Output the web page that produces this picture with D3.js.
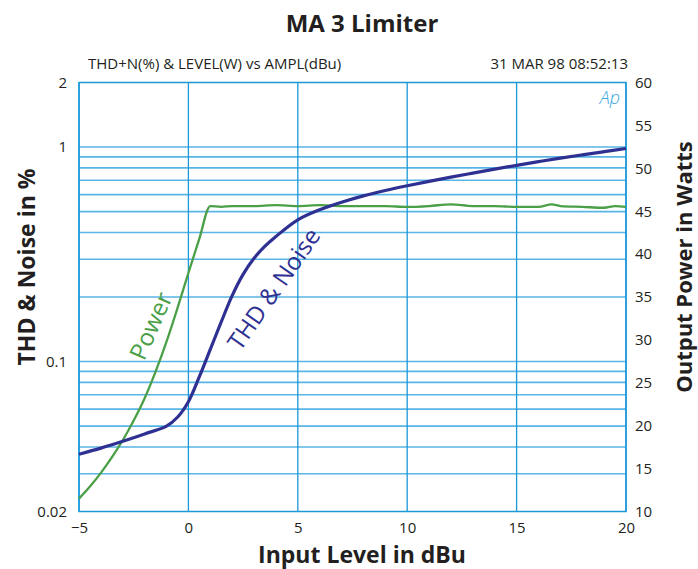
<!DOCTYPE html>
<html>
<head>
<meta charset="utf-8">
<script src="https://cdn.jsdelivr.net/npm/d3@7"></script>
<style>
  body { margin: 0; background: #fff; }
  text { font-family: 'Open Sans', sans-serif; fill: #231f20; }
</style>
</head>
<body>
<div class="chart"></div>
<script>
// Chart data

// input level in dBu for the THD+N sweep
const thdLevels = [-5, -4, -3, -2, -1, -0.5, 0, 0.5, 1, 1.5, 2, 2.5, 3, 3.5, 4, 5, 6, 7, 8, 9, 10, 11, 12, 13, 14, 15, 16, 17, 18, 19, 20];
// THD + noise in %
const thdValues = [0.037, 0.0395, 0.0425, 0.046, 0.050, 0.055, 0.065, 0.085, 0.114, 0.153, 0.203, 0.255, 0.303, 0.345, 0.383, 0.458, 0.51, 0.553, 0.592, 0.627, 0.66, 0.692, 0.724, 0.756, 0.789, 0.822, 0.855, 0.888, 0.92, 0.952, 0.985];

// input level in dBu for the output power sweep
const powerLevels = [-5, -4.5, -4, -3.5, -3, -2.5, -2, -1.5, -1, -0.5, 0, 0.5, 1, 1.5, 2, 3, 4, 5, 6, 7, 8, 9, 10, 11, 12, 13, 14, 15, 16, 16.6, 17, 18, 19, 19.5, 20];
// output power in watts
const powerValues = [11.5, 12.9, 14.5, 16.3, 18.3, 20.6, 23.2, 26.3, 29.8, 33.7, 37.8, 41.8, 45.6, 45.5, 45.6, 45.6, 45.7, 45.6, 45.7, 45.6, 45.6, 45.6, 45.5, 45.6, 45.8, 45.6, 45.6, 45.5, 45.5, 45.8, 45.6, 45.5, 45.4, 45.6, 45.5];

// tick labels
const xTicks = [-5, 0, 5, 10, 15, 20];
const leftTicks = [2, 1, 0.1, 0.02];
const leftGrid = [1, 0.9, 0.8, 0.7, 0.6, 0.5, 0.4, 0.3, 0.2, 0.1, 0.09, 0.08, 0.07, 0.06, 0.05, 0.04, 0.03];
const rightTicks = [10, 15, 20, 25, 30, 35, 40, 45, 50, 55, 60];

// chart dimensions
let width = 698, height = 569;
let margin = { top: 82.5, right: 72, bottom: 57.5, left: 79 };
let plotW = width - margin.left - margin.right;
let plotH = height - margin.top - margin.bottom;

const svg = d3.select('.chart')
  .append('svg')
  .attr('width', width)
  .attr('height', height);

const xScale = d3.scaleLinear().domain([-5, 20]).range([margin.left, margin.left + plotW]);
const yLeft = d3.scaleLog().domain([0.02, 2]).range([margin.top + plotH, margin.top]);
const yRight = d3.scaleLinear().domain([10, 60]).range([margin.top + plotH, margin.top]);

const gridBlue = '#2ea3df';

// horizontal grid lines (log grid of the left axis)
svg.append('g')
  .selectAll('line')
  .data(leftGrid)
  .enter()
  .append('line')
  .attr('x1', margin.left)
  .attr('x2', margin.left + plotW)
  .attr('y1', d => yLeft(d))
  .attr('y2', d => yLeft(d))
  .attr('stroke', gridBlue)
  .attr('stroke-opacity', 0.8)
  .attr('stroke-width', 1.6);

// vertical grid lines
svg.append('g')
  .selectAll('line')
  .data(xTicks)
  .enter()
  .append('line')
  .attr('x1', d => xScale(d))
  .attr('x2', d => xScale(d))
  .attr('y1', margin.top)
  .attr('y2', margin.top + plotH)
  .attr('stroke', '#1a98d8')
  .attr('stroke-width', 1.3);

// plot frame
svg.append('rect')
  .attr('x', margin.left)
  .attr('y', margin.top)
  .attr('width', plotW)
  .attr('height', plotH)
  .attr('fill', 'none')
  .attr('stroke', '#1a98d8')
  .attr('stroke-width', 1.5);

// bottom axis, labels only
const xAxis = svg.append('g')
  .attr('transform', 'translate(0,' + (margin.top + plotH) + ')')
  .call(d3.axisBottom(xScale).tickValues(xTicks).tickSize(0).tickPadding(11).tickFormat(d3.format('d')));
xAxis.select('.domain').remove();
xAxis.selectAll('text').style('font-size', '15px').style('font-family', "'Open Sans', sans-serif").attr('fill', '#231f20');

// left axis
const lAxis = svg.append('g')
  .attr('transform', 'translate(' + margin.left + ',0)')
  .call(d3.axisLeft(yLeft).tickValues(leftTicks).tickSize(0).tickPadding(12).tickFormat(d => String(d)));
lAxis.select('.domain').remove();
lAxis.selectAll('text').style('font-size', '15px').style('font-family', "'Open Sans', sans-serif").attr('fill', '#231f20');

// right axis
const rAxis = svg.append('g')
  .attr('transform', 'translate(' + (margin.left + plotW) + ',0)')
  .call(d3.axisRight(yRight).tickValues(rightTicks).tickSize(0).tickPadding(9).tickFormat(d3.format('d')));
rAxis.select('.domain').remove();
rAxis.selectAll('text').style('font-size', '15px').style('font-family', "'Open Sans', sans-serif").attr('fill', '#231f20');

// curves
const thdLine = d3.line()
  .x(d => xScale(d[0]))
  .y(d => yLeft(d[1]))
  .curve(d3.curveCatmullRom.alpha(0.5));

const powerLine = d3.line()
  .x(d => xScale(d[0]))
  .y(d => yRight(d[1]))
  .curve(d3.curveMonotoneX);

svg.append('path')
  .datum(powerLevels.map((v, i) => [v, powerValues[i]]))
  .attr('d', powerLine)
  .attr('fill', 'none')
  .attr('stroke', '#4a9f47')
  .attr('stroke-width', 2.3);

svg.append('path')
  .datum(thdLevels.map((v, i) => [v, thdValues[i]]))
  .attr('d', thdLine)
  .attr('fill', 'none')
  .attr('stroke', '#2e3192')
  .attr('stroke-width', 3.2);

// curve labels
svg.append('text')
  .attr('transform', 'translate(151,326) rotate(-66)')
  .attr('text-anchor', 'middle')
  .attr('dy', '0.35em')
  .style('font-size', '24px')
  .style('fill', '#4a9f47')
  .text('Power');

svg.append('text')
  .attr('transform', 'translate(274,289) rotate(-55)')
  .attr('text-anchor', 'middle')
  .attr('dy', '0.35em')
  .style('font-size', '24px')
  .style('fill', '#2e3192')
  .text('THD & Noise');

// Ap logo
svg.append('text')
  .attr('x', margin.left + plotW - 6)
  .attr('y', margin.top + 21)
  .attr('text-anchor', 'end')
  .style('font-size', '18px')
  .style('font-style', 'italic')
  .style('font-weight', '300')
  .style('fill', '#3aa6e0')
  .text('Ap');

// titles
svg.append('text')
  .attr('x', 362)
  .attr('y', 32)
  .attr('text-anchor', 'middle')
  .style('font-size', '24px')
  .style('font-weight', 'bold')
  .text('MA 3 Limiter');

svg.append('text')
  .attr('x', 88)
  .attr('y', 69)
  .style('font-size', '15px')
  .text('THD+N(%) & LEVEL(W) vs AMPL(dBu)');

svg.append('text')
  .attr('x', 628)
  .attr('y', 69)
  .attr('text-anchor', 'end')
  .style('font-size', '15px')
  .text('31 MAR 98 08:52:13');

svg.append('text')
  .attr('x', 362)
  .attr('y', 563)
  .attr('text-anchor', 'middle')
  .style('font-size', '23px')
  .style('font-weight', 'bold')
  .text('Input Level in dBu');

svg.append('text')
  .attr('transform', 'translate(35,267) rotate(-90)')
  .attr('text-anchor', 'middle')
  .style('font-size', '23px')
  .style('font-weight', 'bold')
  .text('THD & Noise in %');

svg.append('text')
  .attr('transform', 'translate(692,267) rotate(-90)')
  .attr('text-anchor', 'middle')
  .style('font-size', '22px')
  .style('font-weight', 'bold')
  .text('Output Power in Watts');
</script>
</body>
</html>
